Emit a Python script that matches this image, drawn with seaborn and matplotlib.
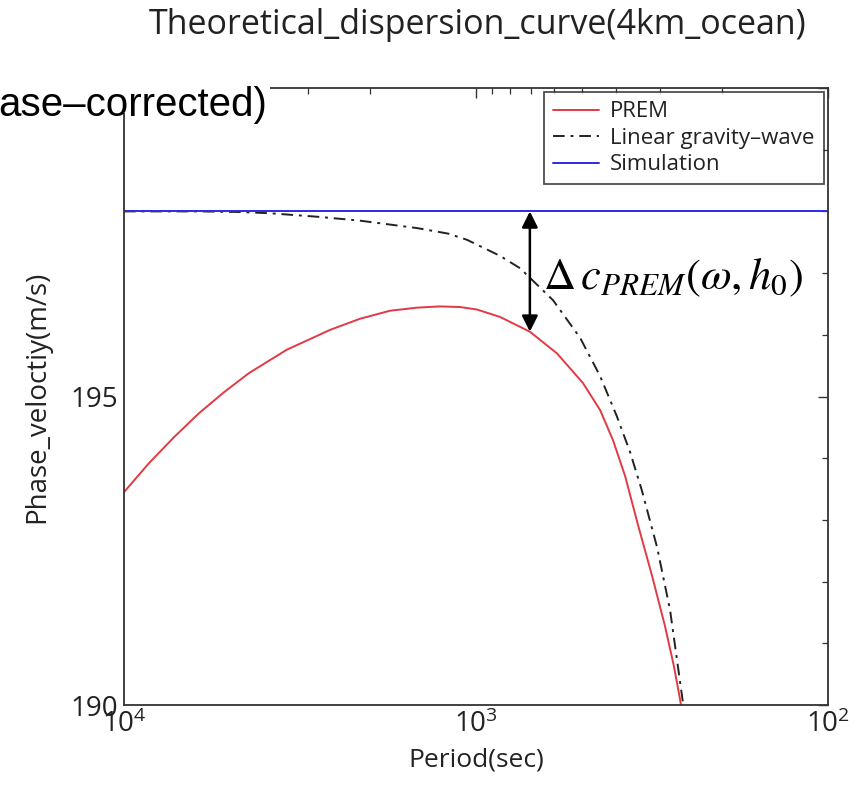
import matplotlib
matplotlib.use("Agg")
import numpy as np
import pandas as pd
import matplotlib.pyplot as plt
import seaborn as sns
from matplotlib.ticker import MultipleLocator, FixedLocator, LogLocator, NullFormatter
from matplotlib.patches import Rectangle

# ---------------- data ----------------
prem_period = [10000, 8491, 7211, 6121, 5198, 4414, 3443, 2962, 2598, 2136, 1755, 1471,
               1266, 1110, 994, 855, 703, 589, 497, 444, 408, 377, 347, 316, 290.5, 274, 263, 260]
prem_velocity = [193.45, 193.92, 194.34, 194.73, 195.07, 195.38, 195.76, 195.93, 196.08, 196.26, 196.39, 196.44,
                 196.46, 196.45, 196.41, 196.29, 196.05, 195.70, 195.22, 194.78, 194.29, 193.71, 192.93, 192.09,
                 191.28, 190.63, 190.08, 189.89]

gw_period = [10000, 6083, 4683, 3847, 2774, 2136, 1471, 1200, 1061, 855, 750, 604, 506, 444,
             398, 365, 338, 306, 281, 258, 253]
gw_velocity = [198.0, 198.0, 197.99, 197.97, 197.91, 197.85, 197.73, 197.64, 197.54, 197.28, 197.08, 196.56,
               195.95, 195.33, 194.68, 194.10, 193.48, 192.56, 191.54, 190.02, 189.82]

sim_period = [10000, 100]
sim_velocity = [198.0, 198.0]

series_names = ["PREM", "Linear gravity\u2013wave", "Simulation"]

arrow_period = 703
arrow_top = 198.0
arrow_bottom = 196.05

y_ticks = [190, 195, 200]
y_tick_labels = ["190", "195", ""]

df_prem = pd.DataFrame({"period": prem_period, "velocity": prem_velocity})
df_gw = pd.DataFrame({"period": gw_period, "velocity": gw_velocity})
df_sim = pd.DataFrame({"period": sim_period, "velocity": sim_velocity})

# ---------------- style ----------------
sns.set_theme(style="white")
plt.rcParams["font.family"] = ["Open Sans", "DejaVu Sans"]
plt.rcParams["mathtext.fontset"] = "custom"
plt.rcParams["mathtext.rm"] = "Open Sans"
plt.rcParams["mathtext.it"] = "Open Sans:italic"
plt.rcParams["mathtext.bf"] = "Open Sans:bold"

fig = plt.figure(figsize=(8.63, 7.86), dpi=100)
ax = fig.add_axes([124 / 863, 1 - 705 / 786, (828 - 124) / 863, (705 - 88) / 786])

sns.lineplot(data=df_prem, x="period", y="velocity", ax=ax, color="#e23a44",
             lw=1.4, label=series_names[0], sort=False)
sns.lineplot(data=df_gw, x="period", y="velocity", ax=ax, color="#222222",
             lw=1.4, label=series_names[1], sort=False)
ax.lines[-1].set_linestyle((0, (6, 3, 1.5, 3)))
sns.lineplot(data=df_sim, x="period", y="velocity", ax=ax, color="#2a2ae6",
             lw=1.4, label=series_names[2], sort=False)

ax.set_xscale("log")
ax.set_xlim(1e4, 1e2)
ax.set_ylim(190, 200)

ax.yaxis.set_major_locator(FixedLocator(y_ticks))
ax.set_yticklabels(y_tick_labels)
ax.yaxis.set_minor_locator(MultipleLocator(1))
ax.xaxis.set_major_locator(LogLocator(base=10, numticks=10))
ax.xaxis.set_minor_locator(LogLocator(base=10, subs=np.arange(2, 10), numticks=20))
ax.xaxis.set_minor_formatter(NullFormatter())

ax.tick_params(axis="both", which="both", direction="in", top=True, right=True,
               colors="#333333", labelcolor="#222222")
ax.tick_params(axis="both", which="major", length=7, width=1.0, labelsize=20, pad=4)
ax.tick_params(axis="both", which="minor", length=4, width=0.9)
for s in ax.spines.values():
    s.set_color("#333333")
    s.set_linewidth(1.3)

ax.set_xlabel("Period(sec)", fontsize=19, color="#222222", labelpad=6)
ax.set_ylabel("Phase_veloctiy(m/s)", fontsize=20, color="#222222", labelpad=14)

# arrow and annotation
ax.annotate("", xy=(arrow_period, arrow_bottom), xytext=(arrow_period, arrow_top),
            arrowprops=dict(arrowstyle="<|-|>", color="black", lw=1.8,
                            mutation_scale=24, shrinkA=0, shrinkB=0))
ax.text(645, 196.92, r"$\Delta\, c_{PREM}(\omega, h_0)$", fontsize=32,
        math_fontfamily="stix", ha="left", va="center", color="black")

leg = ax.legend(loc="upper right", fontsize=16, frameon=True, fancybox=False,
                edgecolor="#222222", borderaxespad=0.2, handlelength=2.1,
                labelspacing=0.25, borderpad=0.4, handletextpad=0.5)
leg.get_frame().set_linewidth(1.3)
for t in leg.get_texts():
    t.set_color("#222222")

# title
fig.text(478 / 863, 1 - 25 / 786, "Theoretical_dispersion_curve(4km_ocean)",
         fontsize=24.5, ha="center", va="center", color="#222222")

# cropped overlay text at top-left
fig.patches.append(Rectangle((0, 1 - 113 / 786), 270 / 863, 45 / 786,
                             transform=fig.transFigure, facecolor="white",
                             edgecolor="none", zorder=5))
fig.text(267 / 863, 1 - 116 / 786, "ase\u2013corrected)", fontsize=29,
         family=["Liberation Sans", "DejaVu Sans"], ha="right", va="baseline",
         color="black", zorder=6)

fig.savefig("out.png", dpi=100)
